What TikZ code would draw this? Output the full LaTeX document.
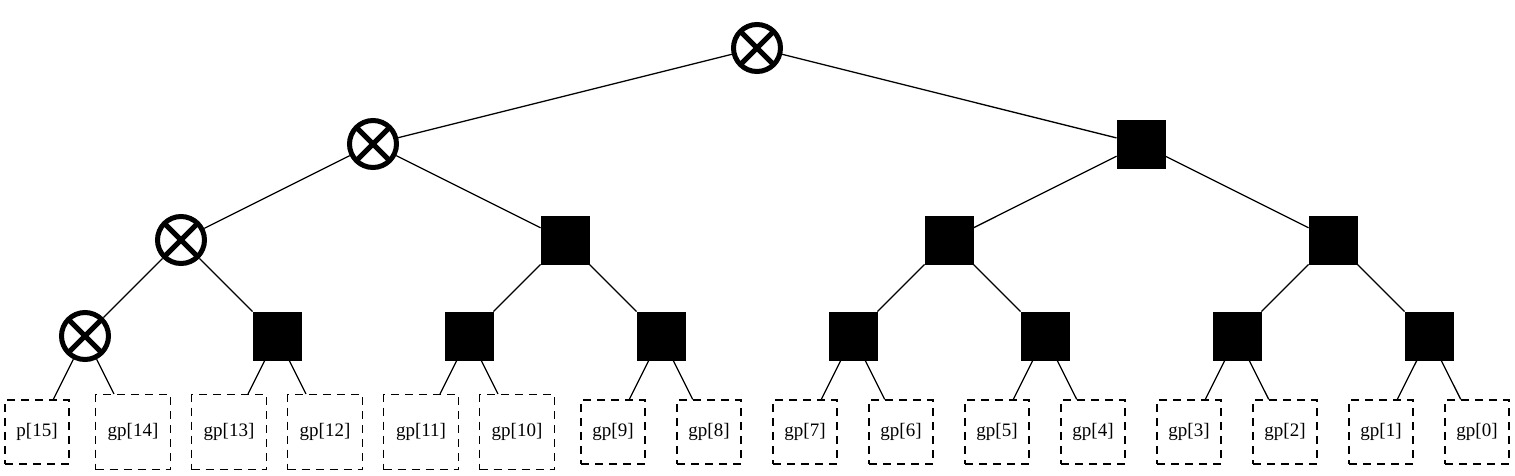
\documentclass[tikz,border=0pt]{standalone}
\usepackage{fontspec}
\setmainfont{Liberation Serif}
\usetikzlibrary{positioning}

\begin{document}
\begin{tikzpicture}[x=1pt, y=-1pt, on grid, line width=1.3pt,
        op/.style = {draw, circle, line width=5pt, inner sep=0pt,
                        minimum size=47pt, path picture={
                        \draw[line width=5pt]
                        (path picture bounding box.north west) -- (path picture bounding box.south east)
                        (path picture bounding box.north east) -- (path picture bounding box.south west);}},
        blk/.style = {draw, fill=black, line width=1pt, inner sep=0pt,
                        minimum size=48pt},
        leaf/.style = {draw, dash pattern=on 8pt off 6pt, line width=1.2pt, inner sep=0pt,
                        minimum size=64pt, font=\fontsize{19}{23}\selectfont},
        wide/.style = {leaf, minimum size=75pt}]
        \useasboundingbox (0,0) rectangle (1515,475);

        \node[op] (15-0) at (757,48) {};

        \node[op] (15-8) [below left=96pt and 384pt of 15-0] {};
        \node[blk] (7-0) [below right=96pt and 384pt of 15-0] {};

        \node[op] (15-12) [below left=96pt and 192pt of 15-8] {};
        \node[blk] (11-8) [below right=96pt and 192pt of 15-8] {};
        \node[blk] (7-4) [below left=96pt and 192pt of 7-0] {};
        \node[blk] (3-0) [below right=96pt and 192pt of 7-0] {};

        \node[op] (15-14) [below left=96pt and 96pt of 15-12] {};
        \node[blk] (13-12) [below right=96pt and 96pt of 15-12] {};
        \node[blk] (11-10) [below left=96pt and 96pt of 11-8] {};
        \node[blk] (9-8) [below right=96pt and 96pt of 11-8] {};
        \node[blk] (7-6) [below left=96pt and 96pt of 7-4] {};
        \node[blk] (5-4) [below right=96pt and 96pt of 7-4] {};
        \node[blk] (3-2) [below left=96pt and 96pt of 3-0] {};
        \node[blk] (1-0) [below right=96pt and 96pt of 3-0] {};

        \node[leaf] (15) [below left=96pt and 48pt of 15-14] {p[15]};
        \node[wide] (14) [below right=96pt and 48pt of 15-14] {gp[14]};
        \node[wide] (13) [below left=96pt and 48pt of 13-12] {gp[13]};
        \node[wide] (12) [below right=96pt and 48pt of 13-12] {gp[12]};
        \node[wide] (11) [below left=96pt and 48pt of 11-10] {gp[11]};
        \node[wide] (10) [below right=96pt and 48pt of 11-10] {gp[10]};
        \node[leaf] (9) [below left=96pt and 48pt of 9-8] {gp[9]};
        \node[leaf] (8) [below right=96pt and 48pt of 9-8] {gp[8]};
        \node[leaf] (7) [below left=96pt and 48pt of 7-6] {gp[7]};
        \node[leaf] (6) [below right=96pt and 48pt of 7-6] {gp[6]};
        \node[leaf] (5) [below left=96pt and 48pt of 5-4] {gp[5]};
        \node[leaf] (4) [below right=96pt and 48pt of 5-4] {gp[4]};
        \node[leaf] (3) [below left=96pt and 48pt of 3-2] {gp[3]};
        \node[leaf] (2) [below right=96pt and 48pt of 3-2] {gp[2]};
        \node[leaf] (1) [below left=96pt and 48pt of 1-0] {gp[1]};
        \node[leaf] (0) [below right=96pt and 48pt of 1-0] {gp[0]};

        \draw (15-0) -- (15-8);
        \draw (15-0) -- (7-0);
        \draw (15-8) -- (15-12);
        \draw (15-8) -- (11-8);
        \draw (7-0) -- (7-4);
        \draw (7-0) -- (3-0);
        \draw (15-12) -- (15-14);
        \draw (15-12) -- (13-12);
        \draw (11-8) -- (11-10);
        \draw (11-8) -- (9-8);
        \draw (7-4) -- (7-6);
        \draw (7-4) -- (5-4);
        \draw (3-0) -- (3-2);
        \draw (3-0) -- (1-0);
        \draw (15-14) -- (15);
        \draw (15-14) -- (14);
        \draw (13-12) -- (13);
        \draw (13-12) -- (12);
        \draw (11-10) -- (11);
        \draw (11-10) -- (10);
        \draw (9-8) -- (9);
        \draw (9-8) -- (8);
        \draw (7-6) -- (7);
        \draw (7-6) -- (6);
        \draw (5-4) -- (5);
        \draw (5-4) -- (4);
        \draw (3-2) -- (3);
        \draw (3-2) -- (2);
        \draw (1-0) -- (1);
        \draw (1-0) -- (0);
    \end{tikzpicture}
\end{document}
